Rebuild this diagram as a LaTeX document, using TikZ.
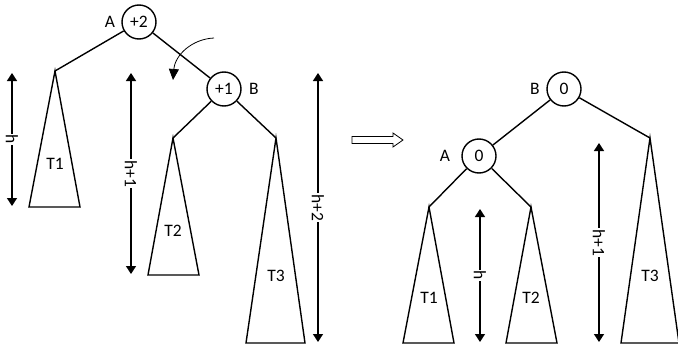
\documentclass[tikz,border=0pt]{standalone}
\usepackage{fontspec}
\setmainfont{Carlito}
\usetikzlibrary{arrows.meta}
\begin{document}
\begin{tikzpicture}[x=1pt,y=-1pt,
  every node/.style={font=\fontsize{17.5}{20}\selectfont},
  bnode/.style={circle,draw,line width=1.4pt,minimum size=34pt,inner sep=0pt},
  edge/.style={line width=1.4pt},
  tree/.style={line width=1.4pt,line join=miter},
  dim/.style={line width=1.4pt,{Triangle[width=10pt,length=8pt]}-{Triangle[width=10pt,length=8pt]}},
  dimlab/.style={fill=white,rotate=-90,inner sep=1pt}]
\useasboundingbox (0,0) rectangle (678,348);
% left tree
\node[bnode] (A) at (139,22) {+2};
\node (Alab) at (110,22) {A};
\node[bnode] (B) at (224,89) {+1};
\node (Blab) at (254,89) {B};
\coordinate (t1) at (55,71);
\coordinate (t2) at (173,138);
\coordinate (t3) at (276,138);
\draw[edge] (A) -- (t1);
\draw[edge] (A) -- (B);
\draw[edge] (B) -- (t2);
\draw[edge] (B) -- (t3);
\draw[tree] (t1) -- (29,207) -- (80,207) -- cycle;
\draw[tree] (t2) -- (148,275) -- (199,275) -- cycle;
\draw[tree] (t3) -- (246,343) -- (305,343) -- cycle;
\node (T1) at (55,164) {T1};
\node (T2) at (173,231) {T2};
\node (T3) at (276,276) {T3};
\coordinate (d1a) at (12,73); \coordinate (d1b) at (12,206);
\draw[dim] (d1a) -- (d1b) node[midway,dimlab] {h};
\coordinate (d2a) at (131,73); \coordinate (d2b) at (131,274);
\draw[dim] (d2a) -- (d2b) node[midway,dimlab] {h+1};
\coordinate (d3a) at (318,73); \coordinate (d3b) at (318,342);
\draw[dim] (d3a) -- (d3b) node[midway,dimlab] {h+2};
% rotation arrow
\coordinate (r1) at (214,38);
\coordinate (r2) at (173,80);
\draw[line width=0.8pt,-{Triangle[width=10pt,length=11pt]}] (r1) .. controls (192,39) and (175,55) .. (r2);
% hollow arrow
\draw[line width=0.8pt,fill=white] (352,136.5) -- (393,136.5) -- (393,133) -- (403,140) -- (393,147) -- (393,143.5) -- (352,143.5) -- cycle;
% right tree
\node[bnode] (B2) at (564,89) {0};
\node (B2lab) at (535,89) {B};
\node[bnode] (A2) at (479,156) {0};
\node (A2lab) at (445,156) {A};
\coordinate (u1) at (429,207);
\coordinate (u2) at (531,207);
\coordinate (u3) at (650,138);
\draw[edge] (B2) -- (A2);
\draw[edge] (B2) -- (u3);
\draw[edge] (A2) -- (u1);
\draw[edge] (A2) -- (u2);
\draw[tree] (u1) -- (403,343) -- (454,343) -- cycle;
\draw[tree] (u2) -- (506,343) -- (557,343) -- cycle;
\draw[tree] (u3) -- (621,343) -- (679,343) -- cycle;
\node (U1) at (429,298) {T1};
\node (U2) at (531,298) {T2};
\node (U3) at (650,276) {T3};
\coordinate (e1a) at (480,209); \coordinate (e1b) at (480,342);
\draw[dim] (e1a) -- (e1b) node[midway,dimlab] {h};
\coordinate (e2a) at (599,143); \coordinate (e2b) at (599,342);
\draw[dim] (e2a) -- (e2b) node[midway,dimlab] {h+1};
\end{tikzpicture}
\end{document}
